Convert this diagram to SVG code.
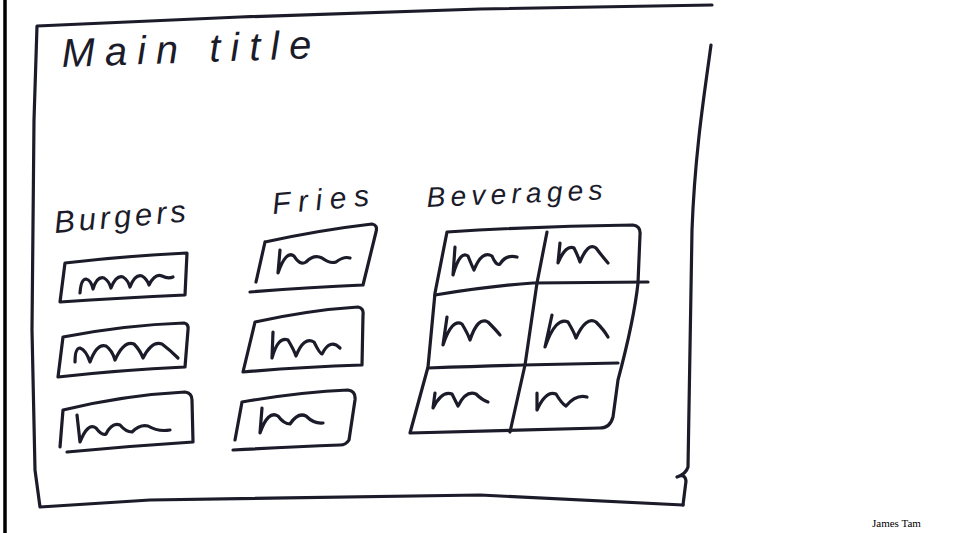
<svg xmlns="http://www.w3.org/2000/svg" width="957" height="533" viewBox="0 0 957 533">
  <style>
    .ink { fill: none; stroke: #1b1b2a; stroke-width: 3.2; stroke-linecap: round; stroke-linejoin: round; }
    .hand { font-family: "Liberation Sans", "DejaVu Sans", sans-serif; font-style: italic; fill: #1b1b2a; }
    .credit { font-family: "Liberation Serif", "Times New Roman", serif; font-size: 11px; fill: #000; }
  </style>

  <rect x="0" y="0" width="957" height="533" fill="#fff"/>

  <!-- page margin rule -->
  <line x1="5" y1="0" x2="5" y2="533" stroke="#000" stroke-width="3.5"/>

  <!-- outer screen frame -->
  <g id="frame">
    <path class="ink" d="M712,5 L480,9 L240,17 L37,26 L34,120 L32,330 L35,470 L40,507 L150,500 L480,495 L683,505"/>
    <path class="ink" d="M711,45 C705,90 695,150 692,230 L688,467 Q686,474 677,477 Q685,473 686,481 L683,505"/>
  </g>

  <g id="title">
    <text class="hand" x="62" y="67" font-size="40" textLength="250" lengthAdjust="spacing" transform="rotate(-2 62 67)">Main title</text>
  </g>

  <!-- burgers column -->
  <g id="burgers">
    <text class="hand" x="55" y="233" font-size="31" textLength="132" lengthAdjust="spacing" transform="rotate(-5 55 233)">Burgers</text>
    <path class="ink" d="M65,263 Q125,256 187,253 L185,295 Q120,298 60,302 Z"/>
    <path class="ink" d="M80,293 Q81,279 86,279 Q91,280 93,289 Q97,276 104,278 Q109,281 111,288 Q116,275 123,277 Q128,280 130,287 Q135,274 142,276 Q147,279 149,285 Q155,273 162,276 Q168,279 173,277"/>
    <path class="ink" d="M63,337 Q125,325 184,323 Q189,324 188,330 L185,367 Q120,370 58,377 Z"/>
    <path class="ink" d="M75,362 Q75,348 80,348 Q86,350 90,362 Q97,343 106,346 Q112,350 115,360 Q124,340 134,344 Q140,350 143,358 Q152,340 162,344 Q170,350 178,358"/>
    <path class="ink" d="M63,410 Q125,395 185,392 Q192,393 192,400 L193,442 Q130,446 67,452 M63,410 L60,447"/>
    <path class="ink" d="M77,415 L80,442 Q88,422 96,428 Q102,436 106,434 Q112,422 120,425 Q126,432 132,432 Q140,424 148,426 Q158,432 170,430"/>
  </g>

  <!-- fries column -->
  <g id="fries">
    <text class="hand" x="273" y="214" font-size="30" textLength="97" lengthAdjust="spacing" transform="rotate(-5 273 214)">Fries</text>
    <path class="ink" d="M265,242 Q320,230 372,224 Q378,225 376,232 L363,285 Q310,287 250,292 M265,242 L256,282"/>
    <path class="ink" d="M280,250 L278,273 Q286,250 294,256 Q300,266 306,262 Q314,254 322,258 Q330,264 336,262 Q344,256 350,258"/>
    <path class="ink" d="M255,322 Q310,310 358,307 Q364,308 363,315 L362,365 Q300,367 243,372 Z"/>
    <path class="ink" d="M273,332 L272,358 Q278,336 288,340 Q294,350 296,356 Q304,336 314,342 Q320,354 322,354 Q330,338 340,348"/>
    <path class="ink" d="M242,402 Q300,392 348,390 Q356,391 355,400 L349,440 Q346,445 340,445 Q290,447 233,450 M242,402 L235,440"/>
    <path class="ink" d="M262,408 L260,433 Q268,410 278,416 Q284,424 290,424 Q298,412 306,416 Q314,424 323,423"/>
  </g>

  <!-- beverages grid -->
  <g id="beverages">
    <text class="hand" x="427" y="207" font-size="28" textLength="176" lengthAdjust="spacing" transform="rotate(-2.5 427 207)">Beverages</text>
    <path class="ink" d="M447,232 Q540,226 633,225 Q641,226 640,235 L638,283 Q634,320 618,380 L613,417 Q610,428 600,428 L410,433 L428,367 L435,293 Z"/>
    <path class="ink" d="M435,295 Q490,286 533,283 L648,282"/>
    <path class="ink" d="M428,368 Q480,366 523,365 L618,363"/>
    <path class="ink" d="M547,232 L537,283 L525,365 L510,432"/>
    <path class="ink" d="M455,247 L453,275 Q460,250 468,256 Q472,266 474,270 Q482,250 492,256 Q496,266 500,264 Q506,254 517,257"/>
    <path class="ink" d="M560,243 L558,263 Q566,244 574,248 Q578,256 580,262 Q588,242 596,248 Q602,256 608,263"/>
    <path class="ink" d="M447,317 L443,345 Q452,318 462,324 Q468,334 470,340 Q478,316 488,322 Q496,330 500,335"/>
    <path class="ink" d="M552,315 L545,347 Q556,316 568,322 Q574,332 576,338 Q586,316 596,322 Q604,330 608,337"/>
    <path class="ink" d="M435,393 L433,408 Q442,390 452,394 Q456,402 458,406 Q466,390 476,394 Q482,400 488,402"/>
    <path class="ink" d="M537,393 L537,410 Q546,390 556,394 Q562,404 566,406 Q576,394 587,397"/>
  </g>

  <text class="credit" x="872" y="527">James Tam</text>
</svg>
